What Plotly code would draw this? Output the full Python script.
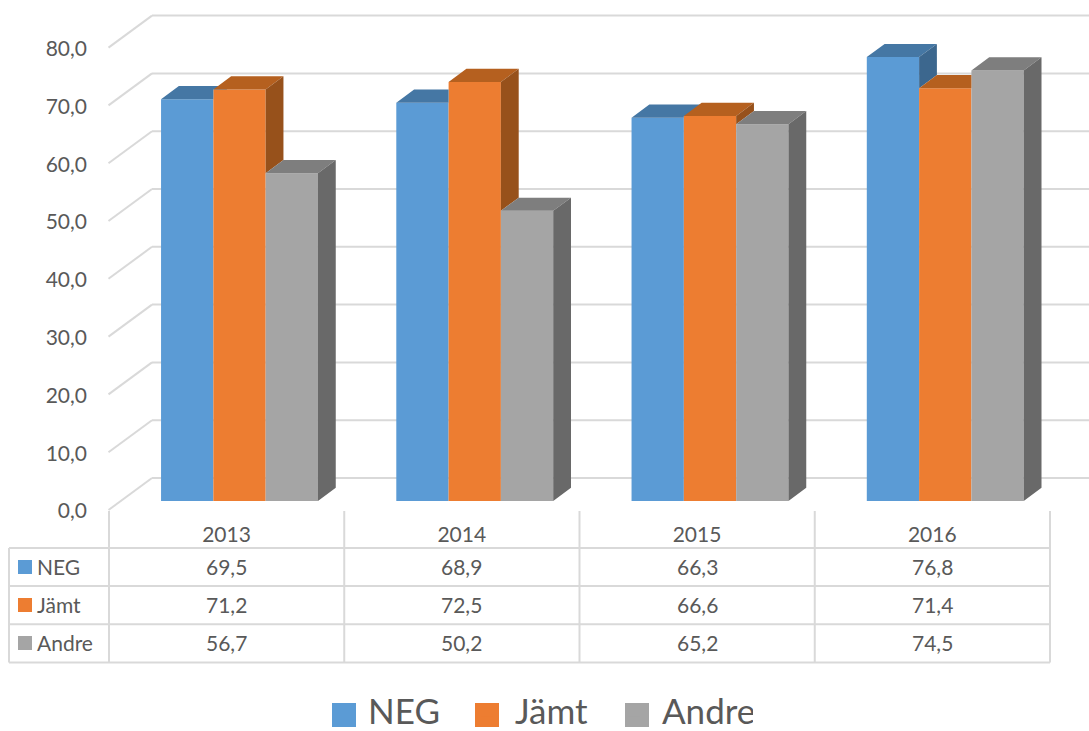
import plotly.graph_objects as go

# ---- data ----
years = ["2013", "2014", "2015", "2016"]
series_names = ["NEG", "Jämt", "Andre"]
neg = [69.5, 68.9, 66.3, 76.8]
jamt = [71.2, 72.5, 66.6, 71.4]
andre = [56.7, 50.2, 65.2, 74.5]
y_ticks = [0, 10, 20, 30, 40, 50, 60, 70, 80]

# ---- styles ----
front_colors = ["#5B9BD5", "#ED7D31", "#A5A5A5"]
top_colors = ["#4577A4", "#B5601F", "#7E7E7E"]
side_colors = ["#3C678E", "#97511B", "#696969"]
GRID = "#D9D9D9"
TEXT = "#595959"
FONT = "Lato"
W, H = 1089, 731

# pixel geometry of the axes
X_UNIT = 235.25      # px per category
X0_PX = 239.5        # px of category 0 centre
Y_UNIT = 5.78        # px per value unit
Y0_PX = 501.0        # px of value 0 on the bar front plane
BAR_W = 52.3 / X_UNIT
DEPTH_X = 17.8 / X_UNIT
DEPTH_Y = 13.2 / Y_UNIT

def px(x):
    return x / W

def py(y):
    return 1 - y / H

series = [neg, jamt, andre]
fig = go.Figure()

# front faces
for s, (name, vals) in enumerate(zip(series_names, series)):
    fig.add_trace(go.Bar(
        x=list(range(len(years))), y=vals, name=name,
        marker=dict(color=front_colors[s], line=dict(width=0)),
    ))

# top and side faces, from the same values
for s, vals in enumerate(series):
    nxt = series[s + 1] if s + 1 < len(series) else [None] * len(vals)
    xs_top, ys_top, xs_side, ys_side = [], [], [], []
    for i, v in enumerate(vals):
        xl = i + (s - 1.5) * BAR_W
        xr = xl + BAR_W
        n = nxt[i]
        # top face, cut where the next bar's front hides it
        if n is None or n <= v:
            poly = [(xl, v), (xr, v), (xr + DEPTH_X, v + DEPTH_Y), (xl + DEPTH_X, v + DEPTH_Y)]
        elif n >= v + DEPTH_Y:
            poly = [(xl, v), (xr, v), (xr, v + DEPTH_Y), (xl + DEPTH_X, v + DEPTH_Y)]
        else:
            t = (n - v) / DEPTH_Y
            poly = [(xl, v), (xr, v), (xr, n), (xr + t * DEPTH_X, n),
                    (xr + DEPTH_X, v + DEPTH_Y), (xl + DEPTH_X, v + DEPTH_Y)]
        xs_top += [p[0] for p in poly] + [poly[0][0], None]
        ys_top += [p[1] for p in poly] + [poly[0][1], None]
        # side face, above the next bar's height only
        low = 0 if n is None else n
        if low < v:
            poly = [(xr, low), (xr + DEPTH_X, low + DEPTH_Y), (xr + DEPTH_X, v + DEPTH_Y), (xr, v)]
            xs_side += [p[0] for p in poly] + [poly[0][0], None]
            ys_side += [p[1] for p in poly] + [poly[0][1], None]
    fig.add_trace(go.Scatter(x=xs_top, y=ys_top, mode="none", fill="toself",
                             fillcolor=top_colors[s], showlegend=False, hoverinfo="skip"))
    fig.add_trace(go.Scatter(x=xs_side, y=ys_side, mode="none", fill="toself",
                             fillcolor=side_colors[s], showlegend=False, hoverinfo="skip"))

shapes = []
LINE = dict(color=GRID, width=2)

# walls: back gridlines and the diagonal floor/side lines
BACK_OFFSET = (Y0_PX - 478) / Y_UNIT
FRONT_OFFSET = (Y0_PX - 510) / Y_UNIT
for t in y_ticks:
    shapes.append(dict(type="line", layer="below", xref="paper", yref="y",
                       x0=px(152), x1=1, y0=t + BACK_OFFSET, y1=t + BACK_OFFSET, line=LINE))
    shapes.append(dict(type="line", layer="below", xref="paper", yref="y",
                       x0=px(108.5), x1=px(152), y0=t + FRONT_OFFSET, y1=t + BACK_OFFSET, line=LINE))

# data table rules
TABLE_LEFT, TABLE_RIGHT = 9, 1050
COL_X = [109 + k * 235.25 for k in range(len(years) + 1)]
ROW_Y = [548, 586, 624.3, 662.5]
ROW_TEXT_Y = [567, 605, 643]
for y in ROW_Y:
    shapes.append(dict(type="line", xref="paper", yref="paper", x0=px(TABLE_LEFT), x1=px(TABLE_RIGHT),
                       y0=py(y), y1=py(y), line=LINE))
for x in COL_X:
    shapes.append(dict(type="line", xref="paper", yref="paper", x0=px(x), x1=px(x),
                       y0=py(511), y1=py(ROW_Y[-1]), line=LINE))
shapes.append(dict(type="line", xref="paper", yref="paper", x0=px(TABLE_LEFT), x1=px(TABLE_LEFT),
                   y0=py(ROW_Y[0]), y1=py(ROW_Y[-1]), line=LINE))

# data table contents
annotations = []
for s, (name, vals) in enumerate(zip(series_names, series)):
    yc = ROW_TEXT_Y[s]
    shapes.append(dict(type="rect", xref="paper", yref="paper", x0=px(18), x1=px(32),
                       y0=py(yc - 7), y1=py(yc + 7), fillcolor=front_colors[s], line=dict(width=0)))
    annotations.append(dict(xref="paper", yref="paper", x=px(34.5), y=py(yc - 1), text=name, showarrow=False,
                            xanchor="left", yanchor="middle", font=dict(family=FONT, size=21, color=TEXT)))
    for i, v in enumerate(vals):
        annotations.append(dict(xref="x", yref="paper", x=i, xshift=-13, y=py(yc - 1),
                                text=f"{v:.1f}".replace(".", ","), showarrow=False,
                                xanchor="center", yanchor="middle",
                                font=dict(family=FONT, size=21, color=TEXT)))

# larger legend keys
LEGEND_KEYS = [(332, 356), (475, 499), (625, 649)]
for s, (a, b) in enumerate(LEGEND_KEYS):
    shapes.append(dict(type="rect", xref="paper", yref="paper", x0=px(a), x1=px(b),
                       y0=py(703), y1=py(727), fillcolor=front_colors[s], line=dict(width=0)))

fig.update_layout(
    width=W, height=H, margin=dict(l=0, r=0, t=0, b=0, autoexpand=False),
    paper_bgcolor="white", plot_bgcolor="rgba(0,0,0,0)",
    separators=",.",
    barmode="group", bargap=1 - 3 * BAR_W, bargroupgap=0,
    font=dict(family=FONT, color=TEXT, size=21),
    shapes=shapes, annotations=annotations,
    xaxis=dict(
        domain=[0, 1], range=[-X0_PX / X_UNIT, (W - X0_PX) / X_UNIT],
        tickmode="array", tickvals=list(range(len(years))), ticktext=years,
        showgrid=False, zeroline=False, showline=False, ticks="",
        anchor="free", position=py(520), ticklabelshift=-13,
        fixedrange=True,
    ),
    yaxis=dict(
        domain=[0, 1], range=[-(H - Y0_PX) / Y_UNIT, Y0_PX / Y_UNIT],
        tickmode="array", tickvals=y_ticks, tickformat=".1f",
        showgrid=False, zeroline=False, showline=False, ticks="",
        anchor="free", position=px(87), ticklabelshift=10,
        fixedrange=True,
    ),
    showlegend=True,
    legend=dict(
        orientation="h", x=px(312), xanchor="left", y=py(711), yanchor="middle",
        bgcolor="rgba(0,0,0,0)", font=dict(family=FONT, size=35, color=TEXT),
        itemwidth=46, entrywidth=86, entrywidthmode="pixels", traceorder="normal",
    ),
)

fig.write_html("out.html", config=dict(displayModeBar=False),
               post_script="document.body.style.margin='0';")
